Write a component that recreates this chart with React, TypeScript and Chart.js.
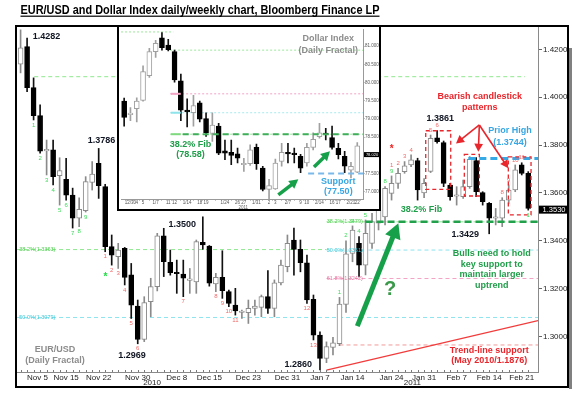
import React, { useEffect, useRef } from 'react';
import { Chart, registerables } from 'chart.js';

Chart.register(...registerables);

const FONT = "'Liberation Sans', Arial, Helvetica, sans-serif";

// ---------------- EUR/USD daily candles (index 0 = 4 Nov 2010 ... 78 = 22 Feb 2011)
const eurOpen = [
  1.4138, 1.4212, 1.4040, 1.3923, 1.3776, 1.3780, 1.3672, 1.3657, 1.3591, 1.3494,
  1.3526, 1.3644, 1.3724, 1.3626, 1.3375, 1.3333, 1.3368, 1.3257, 1.3127, 1.2987,
  1.3145, 1.3208, 1.3420, 1.3310, 1.3268, 1.3261, 1.3234, 1.3228, 1.3393, 1.3378,
  1.3219, 1.3247, 1.3187, 1.3131, 1.3100, 1.3099, 1.3117, 1.3121, 1.3166, 1.3117,
  1.3224, 1.3291, 1.3403, 1.3364, 1.3308, 1.3155, 1.3005, 1.2908, 1.2954, 1.2970,
  1.3134, 1.3347, 1.3389, 1.3298, 1.3389, 1.3473, 1.3500, 1.3598, 1.3640, 1.3689,
  1.3717, 1.3735, 1.3600, 1.3690, 1.3830, 1.3810, 1.3633, 1.3586, 1.3584, 1.3626,
  1.3735, 1.3601, 1.3556, 1.3494, 1.3494, 1.3570, 1.3612, 1.3717, 1.3682,
];
const eurHigh = [
  1.4282, 1.4248, 1.4081, 1.3968, 1.3821, 1.3821, 1.3747, 1.3745, 1.3620, 1.3579,
  1.3668, 1.3731, 1.3786, 1.3636, 1.3424, 1.3389, 1.3372, 1.3305, 1.3152, 1.3166,
  1.3243, 1.3431, 1.3452, 1.3361, 1.3319, 1.3319, 1.3284, 1.3403, 1.3500, 1.3380,
  1.3264, 1.3358, 1.3194, 1.3201, 1.3110, 1.3152, 1.3152, 1.3173, 1.3275, 1.3236,
  1.3319, 1.3424, 1.3453, 1.3403, 1.3340, 1.3173, 1.3019, 1.2977, 1.2996, 1.3163,
  1.3400, 1.3462, 1.3417, 1.3487, 1.3515, 1.3556, 1.3626, 1.3671, 1.3703, 1.3731,
  1.3759, 1.3745, 1.3660, 1.3842, 1.3861, 1.3817, 1.3640, 1.3626, 1.3654, 1.3752,
  1.3748, 1.3605, 1.3560, 1.3535, 1.3580, 1.3633, 1.3717, 1.3726, 1.3689,
];
const eurLow = [
  1.4102, 1.4023, 1.3905, 1.3766, 1.3675, 1.3633, 1.3549, 1.3570, 1.3453, 1.3459,
  1.3520, 1.3612, 1.3577, 1.3354, 1.3298, 1.3284, 1.3215, 1.3075, 1.2969, 1.2978,
  1.3082, 1.3190, 1.3250, 1.3256, 1.3180, 1.3166, 1.3180, 1.3180, 1.3364, 1.3210,
  1.3187, 1.3159, 1.3124, 1.3089, 1.3075, 1.3054, 1.3089, 1.3082, 1.3096, 1.3082,
  1.3215, 1.3270, 1.3256, 1.3270, 1.3138, 1.2985, 1.2860, 1.2890, 1.2922, 1.2961,
  1.3100, 1.3312, 1.3249, 1.3257, 1.3368, 1.3445, 1.3466, 1.3570, 1.3619, 1.3682,
  1.3710, 1.3570, 1.3580, 1.3685, 1.3808, 1.3626, 1.3570, 1.3549, 1.3577, 1.3619,
  1.3584, 1.3549, 1.3429, 1.3466, 1.3459, 1.3556, 1.3605, 1.3675, 1.3528,
];
const eurClose = [
  1.4207, 1.4040, 1.3923, 1.3775, 1.3782, 1.3668, 1.3693, 1.3591, 1.3494, 1.3531,
  1.3647, 1.3679, 1.3630, 1.3375, 1.3340, 1.3361, 1.3247, 1.3131, 1.2987, 1.3141,
  1.3208, 1.3420, 1.3312, 1.3266, 1.3262, 1.3243, 1.3238, 1.3396, 1.3382, 1.3222,
  1.3247, 1.3191, 1.3138, 1.3106, 1.3102, 1.3117, 1.3127, 1.3166, 1.3117, 1.3224,
  1.3298, 1.3389, 1.3364, 1.3308, 1.3152, 1.3005, 1.2908, 1.2957, 1.2973, 1.3135,
  1.3345, 1.3445, 1.3298, 1.3431, 1.3480, 1.3528, 1.3619, 1.3640, 1.3682, 1.3713,
  1.3738, 1.3612, 1.3640, 1.3828, 1.3814, 1.3640, 1.3584, 1.3590, 1.3626, 1.3740,
  1.3605, 1.3563, 1.3494, 1.3498, 1.3570, 1.3612, 1.3696, 1.3682, 1.3535,
];
const eurLast = 1.3530;

const eurTickIdx = [1, 7, 12, 18, 24, 29, 35, 41, 46, 51, 57, 62, 67, 72, 77];
const eurTickLabels = ['Nov 5', 'Nov 15', 'Nov 22', 'Nov 30', 'Dec 8', 'Dec 15', 'Dec 23', 'Dec 31',
  'Jan 7', 'Jan 14', 'Jan 24', 'Jan 31', 'Feb 7', 'Feb 14', 'Feb 21'];
const eurYearIdx = [20.2, 60.2];
const eurYearLabels = ['2010', '2011'];
const eurYTicks = [1.30, 1.32, 1.34, 1.36, 1.38, 1.40, 1.42];

// horizontal levels on EUR/USD
const levelPrice = [1.4086, 1.3363, 1.3079, 1.3479, 1.3361, 1.3242, 1.2964];
const levelFrom = [2.1, -0.55, -0.55, 47.0, 47.0, 47.0, 49.0];
const levelTo = [77.5, 47.0, 79.5, 79.5, 79.5, 79.5, 79.5];
const levelColors = ['#8fe88f', '#8fe88f', '#8de4ee', '#8fe88f', '#8de4ee', '#f3a3c4', '#f29a9a'];

const fibLabelText = ['38.2%(1.3363)', '50.0%(1.3079)', '38.2%(1.3479)', '50.0%(1.3361)', '61.8%(1.3242)'];
const fibLabelIdx = [-0.2, -0.2, 47.04, 47.04, 47.04];
const fibLabelPrice = [1.3363, 1.3079, 1.3479, 1.3361, 1.3242];
const fibLabelColors = ['#4fcf4f', '#3fc9d9', '#4fcf4f', '#3fc9d9', '#e879a3'];

const fibKeyPrice = 1.3479;
const fibKeyFrom = 53;
const priorHighPrice = 1.3744;
const priorHighFrom = 68.8;
const trendIdx = [47, 79.5];
const trendPrice = [1.2859, 1.3066];

// TD counts
const tdIdx = [2, 3, 4, 5, 6, 7, 8, 9, 10,
  13, 14, 15, 16, 17, 18, 25, 30, 31, 32, 33, 44, 45,
  49, 50, 51, 52, 53, 54, 55, 56, 57,
  57, 58, 59, 60, 63, 64, 74, 75, 76, 77,
  78];
const tdText = ['1', '2', '3', '4', '5', '6', '7', '8', '9',
  '1', '2', '3', '4', '5', '6', '7', '8', '9', '10', '11', '12', '13',
  '1', '2', '3', '4', '5', '6', '7', '8', '9',
  '1', '2', '3', '4', '5', '6', '8', '9', '10', '11',
  '1'];
const tdAbove = [0, 0, 0, 0, 0, 0, 0, 0, 0,
  0, 0, 0, 0, 0, 0, 0, 0, 0, 0, 0, 0, 0,
  1, 1, 1, 1, 1, 1, 1, 1, 1,
  1, 1, 1, 1, 1, 1, 1, 1, 1, 1,
  0];
const tdGreen = [1, 1, 1, 1, 1, 1, 1, 1, 1,
  0, 0, 0, 0, 0, 0, 0, 0, 0, 0, 0, 0, 0,
  1, 1, 1, 1, 1, 1, 1, 1, 1,
  0, 0, 0, 0, 0, 0, 0, 0, 0, 0,
  1];

// annotations (index, price)
const NAVY = '#101522';
const GREEN_T = '#1f9e49';
const RED_T = '#e8262c';
const CYAN_T = '#37a6e2';
const GRAY_T = '#8c8c8c';
const noteText = ['1.4282', '1.3786', '1.2969', '1.3500', '1.2860', '1.3861', '1.3429',
  'EUR/USD', '(Daily Fractal)', '38.2% Fib',
  'Bulls need to hold', 'key support to', 'maintain larger', 'uptrend',
  'Bearish candlestick', 'patterns', 'Prior High', '(1.3744)',
  'Trend-line support', '(May 2010/1.1876)'];
const noteIdx = [3.98, 12.43, 17.12, 24.85, 42.67, 64.49, 68.33,
  5.29, 5.29, 61.6, 72.39, 72.39, 72.39, 72.39, 70.54, 70.54, 75.2, 75.2, 72.02, 72.02];
const notePrice = [1.4256, 1.3821, 1.2922, 1.3469, 1.2884, 1.3912, 1.3428,
  1.2946, 1.2901, 1.3529, 1.3347, 1.3301, 1.3257, 1.3211, 1.4005, 1.3958, 1.3860, 1.3810, 1.2939, 1.2897];
const noteColors = [NAVY, NAVY, NAVY, NAVY, NAVY, NAVY, NAVY,
  GRAY_T, GRAY_T, GREEN_T, GREEN_T, GREEN_T, GREEN_T, GREEN_T,
  RED_T, RED_T, CYAN_T, CYAN_T, RED_T, RED_T];

const boxFrom = [62.25, 68.18, 74.94];
const boxTo = [66.09, 70.49, 78.43];
const boxTop = [1.3860, 1.3761, 1.3751];
const boxBottom = [1.3615, 1.3587, 1.3508];

const redArrowFrom = [70.49, 1.3884];
const redArrowToIdx = [66.9, 70.33, 74.94];
const redArrowToPrice = [1.3807, 1.3772, 1.3703];
const greenArrowIdx = [51.74, 58.04];
const greenArrowPrice = [1.3043, 1.3473];
const questionAt = [56.76, 1.3197];
const starIdx = [13.03, 57.02];
const starPrice = [1.3257, 1.3791];

// ---------------- Dollar Index inset (index 0 = 31 Dec 2010 ... 37 = 22 Feb 2011)
const dxyOpen = [79.49, 79.12, 79.28, 79.51, 80.19, 80.85, 81.23, 81.03, 80.85, 80.05,
  79.24, 79.17, 79.44, 79.01, 78.60, 78.80, 78.12, 78.08, 78.04, 77.74,
  77.77, 78.22, 77.65, 77.06, 77.08, 77.83, 78.08, 78.06, 77.97, 77.79,
  78.22, 78.51, 78.60, 78.49, 78.19, 77.97, 77.59, 77.54];
const dxyHigh = [79.57, 79.31, 79.58, 80.46, 80.94, 81.16, 81.37, 81.19, 80.89, 80.23,
  79.55, 79.65, 79.49, 79.17, 79.17, 78.88, 78.42, 78.42, 78.20, 77.92,
  78.29, 78.31, 77.70, 77.34, 77.90, 78.33, 78.33, 78.20, 78.03, 78.33,
  78.62, 78.88, 78.74, 78.80, 78.33, 78.11, 77.81, 78.35];
const dxyLow = [78.80, 78.95, 78.92, 79.49, 80.14, 80.69, 80.89, 80.87, 80.01, 78.95,
  78.78, 78.80, 78.92, 78.52, 78.38, 78.02, 77.88, 77.74, 77.79, 77.56,
  77.72, 77.61, 77.02, 76.81, 77.06, 77.70, 77.79, 77.79, 77.52, 77.70,
  78.15, 78.47, 78.42, 78.17, 77.90, 77.52, 77.38, 77.52];
const dxyClose = [79.04, 79.14, 79.49, 80.30, 80.85, 81.08, 80.96, 80.90, 80.07, 79.24,
  79.19, 79.37, 78.99, 78.62, 78.83, 78.06, 78.06, 78.00, 77.92, 77.77,
  78.15, 77.77, 77.06, 77.17, 77.79, 78.08, 78.04, 78.02, 77.65, 78.22,
  78.44, 78.62, 78.57, 78.22, 78.02, 77.70, 77.70, 78.26];
const dxyLast = 78.02;
const dxyYTicks = [77.0, 77.5, 78.0, 78.5, 79.0, 79.5, 80.0, 80.5, 81.0];
const dxyTickIdx = [1, 2, 3, 5, 7, 8, 10, 12, 13, 16, 18, 19, 21, 23, 24, 26, 28, 29, 31, 33, 34, 36, 37];
const dxyTickLabels = ['12/30', '4', '5', '1/7', '11', '12', '1/14', '18', '19', '1/24', '26', '27',
  '1/31', '2', '3', '2/7', '9', '10', '2/14', '16', '17', '2/21', '22'];

const dxyLevelPrice = [81.39, 80.89, 79.69, 79.17, 78.58];
const dxyLevelFrom = [-0.5, 7.3, 7.3, 7.3, 7.3];
const dxyLevelTo = [7.8, 37.91, 37.91, 37.91, 37.91];
const dxyLevelColors = ['#9be89b', '#9be89b', '#f3a3c4', '#a6ecf0', '#9be89b'];
const dxyFibPrice = 78.58;
const dxyFibFrom = 9.3;
const dxySupportPrice = 77.50;
const dxySupportFrom = 29.2;

const dxyNoteText = ['Dollar Index', '(Daily Fractal)', '38.2% Fib', '(78.58)', 'Support', '(77.50)'];
const dxyNoteIdx = [32.4, 32.4, 10.53, 10.53, 34.0, 34.0];
const dxyNotePrice = [81.21, 80.89, 78.30, 78.03, 77.27, 77.00];
const dxyNoteColors = [GRAY_T, GRAY_T, GREEN_T, GREEN_T, CYAN_T, CYAN_T];
const dxyArrowFromIdx = [24.47, 30.13];
const dxyArrowFromPrice = [76.91, 77.68];
const dxyArrowToIdx = [27.64, 32.67];
const dxyArrowToPrice = [77.34, 78.11];

// ---------------- helpers
function drawText(ctx: any, s: string, x: number, y: number, color: string, size = 9, align = 'center', weight = 'bold') {
  ctx.font = `${weight} ${size}px ${FONT}`;
  ctx.fillStyle = color;
  ctx.textAlign = align;
  ctx.textBaseline = 'middle';
  ctx.fillText(s, x, y);
}

function drawArrow(ctx: any, x1: number, y1: number, x2: number, y2: number, width: number, head: number, color: string) {
  const ang = Math.atan2(y2 - y1, x2 - x1);
  const hx = x2 - head * Math.cos(ang);
  const hy = y2 - head * Math.sin(ang);
  ctx.save();
  ctx.strokeStyle = color;
  ctx.lineWidth = width;
  ctx.lineCap = 'butt';
  ctx.setLineDash([]);
  ctx.beginPath();
  ctx.moveTo(x1, y1);
  ctx.lineTo(hx + Math.cos(ang), hy + Math.sin(ang));
  ctx.stroke();
  const hw = head * 0.55;
  ctx.fillStyle = color;
  ctx.beginPath();
  ctx.moveTo(x2, y2);
  ctx.lineTo(hx + hw * Math.sin(ang), hy - hw * Math.cos(ang));
  ctx.lineTo(hx - hw * Math.sin(ang), hy + hw * Math.cos(ang));
  ctx.closePath();
  ctx.fill();
  ctx.restore();
}

function levelDataset(a: number, b: number, v: number, color: string, width: number, dash: number[], order: number) {
  return {
    type: 'line',
    data: [{ x: a, y: v }, { x: b, y: v }],
    borderColor: color,
    borderWidth: width,
    borderDash: dash,
    pointRadius: 0,
    fill: false,
    order,
  };
}

function candleDatasets(open: number[], high: number[], low: number[], close: number[], upEdge: string, bodyW: number) {
  const up = open.map((o, i) => close[i] >= o);
  return [
    {
      type: 'bar',
      data: open.map((_, i) => ({ x: i, y: [low[i], high[i]] })),
      backgroundColor: up.map((u) => (u ? upEdge : '#111')),
      barThickness: 1,
      grouped: false,
      order: 4,
    },
    {
      type: 'bar',
      data: open.map((o, i) => ({ x: i, y: [o, close[i]] })),
      backgroundColor: up.map((u) => (u ? '#ffffff' : '#000000')),
      borderColor: up.map((u) => (u ? upEdge : '#000000')),
      borderWidth: 1,
      borderSkipped: false,
      barThickness: bodyW,
      minBarLength: 1.5,
      grouped: false,
      order: 3,
    },
  ];
}

// ---------------- main chart overlay
const mainOverlay = {
  id: 'mainOverlay',
  afterDraw(chart: any) {
    const ctx = chart.ctx;
    const xs = chart.scales.x;
    const ys = chart.scales.y;
    const area = chart.chartArea;
    const px = (i: number) => xs.getPixelForValue(i);
    const py = (v: number) => ys.getPixelForValue(v);
    ctx.save();

    // daily tick marks
    ctx.strokeStyle = '#7a7a7a';
    ctx.lineWidth = 1;
    for (let i = 0; i < eurOpen.length; i++) {
      const x = Math.round(px(i)) + 0.5;
      ctx.beginPath();
      ctx.moveTo(x, area.bottom - 2);
      ctx.lineTo(x, area.bottom);
      ctx.stroke();
    }
    eurYearIdx.forEach((v, k) => drawText(ctx, eurYearLabels[k], px(v), area.bottom + 11, '#222', 8, 'center', 'normal'));

    // fib labels
    fibLabelText.forEach((s, k) => drawText(ctx, s, px(fibLabelIdx[k]), py(fibLabelPrice[k]), fibLabelColors[k], 5.5, 'left', 'normal'));

    // TD counts
    const placed: any = {};
    tdIdx.forEach((i, k) => {
      const above = tdAbove[k] === 1;
      const key = i + (above ? 'a' : 'b');
      const n = (placed[key] = (placed[key] || 0) + 1);
      const y = above ? py(eurHigh[i]) - 5 - (n - 1) * 6 : py(eurLow[i]) + 5 + (n - 1) * 6;
      drawText(ctx, tdText[k], px(i), y, tdGreen[k] ? '#3ddc5a' : '#f06a6a', 6, 'center', 'normal');
    });
    drawText(ctx, '*', px(starIdx[0]), py(starPrice[0]) + 2, '#22dd44', 10, 'center', 'bold');
    drawText(ctx, '*', px(starIdx[1]), py(starPrice[1]) + 2, '#ee2222', 10, 'center', 'bold');

    // dashed boxes
    ctx.save();
    ctx.strokeStyle = '#e8262c';
    ctx.lineWidth = 1.3;
    ctx.setLineDash([4, 3]);
    boxFrom.forEach((a, k) => {
      const x1 = px(a), x2 = px(boxTo[k]), y1 = py(boxTop[k]), y2 = py(boxBottom[k]);
      ctx.strokeRect(x1, y1, x2 - x1, y2 - y1);
    });
    ctx.restore();

    // red arrows
    const ox = px(redArrowFrom[0]), oy = py(redArrowFrom[1]);
    redArrowToIdx.forEach((a, k) => drawArrow(ctx, ox, oy, px(a), py(redArrowToPrice[k]), 1.6, 8, '#e8262c'));

    // green arrow
    drawArrow(ctx, px(greenArrowIdx[0]), py(greenArrowPrice[0]), px(greenArrowIdx[1]), py(greenArrowPrice[1]), 5, 15, '#17a04a');
    drawText(ctx, '?', px(questionAt[0]), py(questionAt[1]), '#3a9a4a', 20, 'center', 'bold');

    // notes
    noteText.forEach((s, k) => drawText(ctx, s, px(noteIdx[k]), py(notePrice[k]), noteColors[k], 9, 'center', 'bold'));

    // last price tag
    const ty = py(eurLast);
    ctx.fillStyle = '#000';
    ctx.fillRect(area.right + 1, ty - 4, 30, 8);
    drawText(ctx, eurLast.toFixed(4), area.right + 16, ty + 0.5, '#fff', 7.5, 'center', 'normal');

    // frame and shadow
    ctx.fillStyle = '#808080';
    ctx.fillRect(569, 48, 3, 341);
    ctx.strokeStyle = '#000';
    ctx.lineWidth = 2;
    ctx.setLineDash([]);
    ctx.strokeRect(16, 26, 552, 361);

    // title
    const title = 'EUR/USD and Dollar Index daily/weekly chart, Bloomberg Finance LP';
    ctx.font = `bold 12.5px ${FONT}`;
    const w = ctx.measureText(title).width;
    ctx.save();
    ctx.translate(20.5, 13.5);
    ctx.scale(359 / w, 1);
    ctx.fillStyle = '#000';
    ctx.textAlign = 'left';
    ctx.textBaseline = 'alphabetic';
    ctx.fillText(title, 0, 0);
    ctx.restore();
    ctx.fillStyle = '#000';
    ctx.fillRect(20.5, 15.6, 359, 1.2);

    ctx.restore();
  },
};

// ---------------- inset overlay
const insetOverlay = {
  id: 'insetOverlay',
  afterDraw(chart: any) {
    const ctx = chart.ctx;
    const xs = chart.scales.x;
    const ys = chart.scales.y;
    const area = chart.chartArea;
    const px = (i: number) => xs.getPixelForValue(i);
    const py = (v: number) => ys.getPixelForValue(v);
    ctx.save();
    // small level tags
    [79.69, 79.17, 78.58].forEach((v, k) => {
      ctx.fillStyle = ['#f3a3c4', '#8fe3ea', '#7fd97f'][k];
      ctx.fillRect(px(7.4), py(v) - 1, 10, 2);
    });
    dxyNoteText.forEach((s, k) => drawText(ctx, s, px(dxyNoteIdx[k]), py(dxyNotePrice[k]), dxyNoteColors[k], 9, 'center', 'bold'));
    dxyArrowFromIdx.forEach((a, k) =>
      drawArrow(ctx, px(a), py(dxyArrowFromPrice[k]), px(dxyArrowToIdx[k]), py(dxyArrowToPrice[k]), 3.5, 9, '#17a04a'));
    // last price tag
    const ty = py(dxyLast);
    ctx.fillStyle = '#000';
    ctx.fillRect(area.right + 1, ty - 2.5, 16, 5);
    drawText(ctx, dxyLast.toFixed(3), area.right + 9, ty + 0.3, '#fff', 4, 'center', 'normal');
    drawText(ctx, '2011', px(18.9), area.bottom + 8.5, '#666', 4.5, 'center', 'normal');
    ctx.restore();
  },
};

function mainConfig(): any {
  const datasets: any[] = [];
  levelPrice.forEach((v, k) => datasets.push(levelDataset(levelFrom[k], levelTo[k], v, levelColors[k], 1, [4, 3], 6)));
  datasets.push(...candleDatasets(eurOpen, eurHigh, eurLow, eurClose, '#8a8a8a', 5));
  datasets.push({
    type: 'line',
    data: trendIdx.map((x, k) => ({ x, y: trendPrice[k] })),
    borderColor: '#f23b3b',
    borderWidth: 1.3,
    pointRadius: 0,
    fill: false,
    order: 2,
  });
  datasets.push(levelDataset(fibKeyFrom, 79.5, fibKeyPrice, '#22a04b', 2.5, [7, 4], 1));
  datasets.push(levelDataset(priorHighFrom, 79.5, priorHighPrice, '#35a8e6', 3, [7, 4], 1));

  return {
    type: 'bar',
    data: { datasets },
    options: {
      responsive: false,
      animation: false,
      events: [],
      layout: { padding: { left: 17, top: 26, right: 6, bottom: 9 } },
      plugins: { legend: { display: false }, tooltip: { enabled: false }, title: { display: false } },
      scales: {
        x: {
          type: 'linear',
          min: -0.55,
          max: 79.5,
          offset: false,
          afterBuildTicks: (s: any) => { s.ticks = [...eurTickIdx, 78].map((v) => ({ value: v })); },
          afterFit: (s: any) => { s.height = 15; },
          grid: { drawOnChartArea: false, drawTicks: false, offset: false },
          border: { display: true, color: '#8a8a8a' },
          ticks: {
            autoSkip: false,
            maxRotation: 0,
            align: 'inner',
            padding: 1,
            color: '#222',
            font: { family: FONT, size: 8 },
            callback: (v: any) => { const k = eurTickIdx.indexOf(v); return k >= 0 ? eurTickLabels[k] : ''; },
          },
        },
        y: {
          type: 'linear',
          position: 'right',
          min: 1.2851,
          max: 1.4298,
          afterBuildTicks: (s: any) => { s.ticks = eurYTicks.map((v) => ({ value: v })); },
          afterFit: (s: any) => { s.width = 30; },
          grid: { drawOnChartArea: false, drawTicks: true, tickLength: 4, color: '#666' },
          border: { display: true, color: '#8a8a8a' },
          ticks: { padding: 1, color: '#222', font: { family: FONT, size: 8 }, callback: (v: any) => Number(v).toFixed(4) },
        },
      },
    },
    plugins: [mainOverlay],
  };
}

function insetConfig(): any {
  const datasets: any[] = [];
  dxyLevelPrice.forEach((v, k) => datasets.push(levelDataset(dxyLevelFrom[k], dxyLevelTo[k], v, dxyLevelColors[k], 1, [2, 2], 6)));
  datasets.push(...candleDatasets(dxyOpen, dxyHigh, dxyLow, dxyClose, '#a0a0a0', 5));
  datasets.push(levelDataset(dxyFibFrom, 37.91, dxyFibPrice, '#3fae5a', 2, [6, 4], 1));
  datasets.push(levelDataset(dxySupportFrom, 37.91, dxySupportPrice, '#7ab8ea', 2, [6, 4], 1));

  return {
    type: 'bar',
    data: { datasets },
    options: {
      responsive: false,
      animation: false,
      events: [],
      layout: { padding: { left: 2, top: 1, right: 0, bottom: 0 } },
      plugins: { legend: { display: false }, tooltip: { enabled: false }, title: { display: false } },
      scales: {
        x: {
          type: 'linear',
          min: -0.5,
          max: 37.91,
          offset: false,
          afterBuildTicks: (s: any) => { s.ticks = dxyTickIdx.map((v) => ({ value: v })); },
          afterFit: (s: any) => { s.height = 10; },
          grid: { drawOnChartArea: false, drawTicks: true, tickLength: 1.5, color: '#888' },
          border: { display: true, color: '#999' },
          ticks: {
            autoSkip: false,
            maxRotation: 0,
            padding: 0,
            color: '#555',
            font: { family: FONT, size: 4.5, lineHeight: 1 },
            callback: (v: any) => { const k = dxyTickIdx.indexOf(v); return k >= 0 ? dxyTickLabels[k] : ''; },
          },
        },
        y: {
          type: 'linear',
          position: 'right',
          min: 76.8,
          max: 81.45,
          afterBuildTicks: (s: any) => { s.ticks = dxyYTicks.map((v) => ({ value: v })); },
          afterFit: (s: any) => { s.width = 16; },
          grid: { drawOnChartArea: false, drawTicks: true, tickLength: 1.5, color: '#888' },
          border: { display: true, color: '#999' },
          ticks: { padding: 0.5, color: '#555', font: { family: FONT, size: 4.5, lineHeight: 1 }, callback: (v: any) => Number(v).toFixed(3) },
        },
      },
    },
    plugins: [insetOverlay],
  };
}

export default function App() {
  const mainRef = useRef<HTMLCanvasElement>(null);
  const insetRef = useRef<HTMLCanvasElement>(null);

  useEffect(() => {
    const main = new Chart(mainRef.current as HTMLCanvasElement, mainConfig());
    const inset = new Chart(insetRef.current as HTMLCanvasElement, insetConfig());
    return () => {
      main.destroy();
      inset.destroy();
    };
  }, []);

  return (
    <div style={{ position: 'absolute', left: 0, top: 0, width: 574, height: 396, background: '#fff', overflow: 'hidden' }}>
      <canvas ref={mainRef} width={574} height={396} style={{ position: 'absolute', left: 0, top: 0, width: 574, height: 396 }} />
      <div
        style={{
          position: 'absolute',
          left: 117,
          top: 25,
          width: 264,
          height: 186,
          boxSizing: 'border-box',
          border: '2px solid #000',
          background: '#fff',
        }}
      >
        <canvas ref={insetRef} width={260} height={182} style={{ position: 'absolute', left: 0, top: 0, width: 260, height: 182 }} />
      </div>
    </div>
  );
}
